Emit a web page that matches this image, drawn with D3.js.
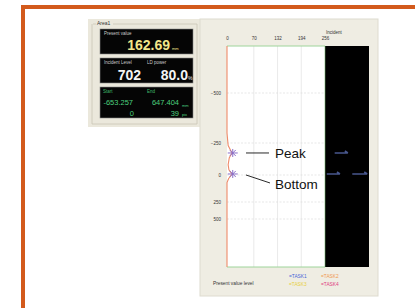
<!DOCTYPE html>
<html lang="en">
<head>
  <meta charset="UTF-8">
  <title>profile</title>
  <script src="https://d3js.org/d3.v7.min.js" charset="utf-8"></script>
  <style>
    body { margin: 0; background: #fff; }
    text { font-family: Arial, "Liberation Sans", sans-serif; }
  </style>
</head>
<body>
</body>
<script>
  // top axis (incident level) and left axis (position, mm)
  let topTicks = [0, 70, 132, 194, 256]
  let posTicks = [-500, -250, 0, 250, 500]
  // received light profile: [level, position]
  let profile = [[0, -900], [0, -300], [3, -230], [13, -172], [6, -135], [3, -80], [5, -40], [13, -8], [4, 35], [0, 70], [0, 900]]
  let markers = [{name: 'Peak', level: 15, pos: -172}, {name: 'Bottom', level: 15, pos: -8}]
  // streaks in the incident pane: position, from, to (0-100)
  let streaks = [[-172, 22, 52], [-8, 4, 34], [-8, 62, 96]]
  let readouts = [
    {label: ['Present value'], values: ['162.69'], units: ['mm']},
    {label: ['Incident Level', 'LD power'], values: ['702', '80.0'], units: ['', '%']},
    {label: ['Start', 'End'], values: ['-653.257', '647.404'], units: ['mm'], sub: ['0', '39'], subUnit: 'pix'}
  ]
  let tasks = ['=TASK1', '=TASK2', '=TASK3', '=TASK4']
  let taskColors = ['#4a66d8', '#f09a50', '#e8d040', '#e04080']

  var svg = d3.select('body').append('svg').attr('width', 415).attr('height', 308)

  // orange frame
  svg.append('rect').attr('x', 23).attr('y', 7).attr('width', 420).attr('height', 320)
    .attr('fill', 'none').attr('stroke', '#d35a1c').attr('stroke-width', 4)

  // left readout panel
  svg.append('rect').attr('x', 88).attr('y', 19).attr('width', 112).attr('height', 108).attr('fill', '#ebe8dc')
  svg.append('path').attr('d', 'M93,24 H96 M113,24 H197 V124 H92 V24').attr('fill', 'none').attr('stroke', '#c9c5b5').attr('stroke-width', 0.8)
  svg.append('text').attr('x', 97).attr('y', 25).attr('font-size', 5).attr('fill', '#333').text('Area1')

  var boxes = [[29, 25], [58, 25], [87, 31]]
  boxes.forEach((b, i) => {
    svg.append('rect').attr('x', 100).attr('y', b[0]).attr('width', 93).attr('height', b[1]).attr('fill', '#050505')
      .attr('stroke', '#888').attr('stroke-width', 0.6)
  })
  // box 1
  svg.append('text').attr('x', 104).attr('y', 35).attr('font-size', 4.5).attr('fill', '#ccc').text(readouts[0].label[0])
  svg.append('text').attr('x', 170).attr('y', 50).attr('text-anchor', 'end').attr('font-size', 14).attr('font-weight', 'bold')
    .attr('fill', '#f2e58a').text(readouts[0].values[0])
  svg.append('text').attr('x', 172).attr('y', 50).attr('font-size', 4).attr('fill', '#f2e58a').text(readouts[0].units[0])
  // box 2
  svg.append('text').attr('x', 104).attr('y', 64).attr('font-size', 4.5).attr('fill', '#ccc').text(readouts[1].label[0])
  svg.append('text').attr('x', 147).attr('y', 64).attr('font-size', 4.5).attr('fill', '#ccc').text(readouts[1].label[1])
  svg.append('text').attr('x', 141).attr('y', 80).attr('text-anchor', 'end').attr('font-size', 14).attr('font-weight', 'bold')
    .attr('fill', '#f4f4f4').text(readouts[1].values[0])
  svg.append('text').attr('x', 188).attr('y', 80).attr('text-anchor', 'end').attr('font-size', 14).attr('font-weight', 'bold')
    .attr('fill', '#f4f4f4').text(readouts[1].values[1])
  svg.append('text').attr('x', 188).attr('y', 80).attr('font-size', 5).attr('fill', '#f4f4f4').text(readouts[1].units[1])
  // box 3
  svg.append('text').attr('x', 103).attr('y', 93).attr('font-size', 4.5).attr('fill', '#3fb86a').text(readouts[2].label[0])
  svg.append('text').attr('x', 147).attr('y', 93).attr('font-size', 4.5).attr('fill', '#3fb86a').text(readouts[2].label[1])
  svg.append('text').attr('x', 133).attr('y', 105).attr('text-anchor', 'end').attr('font-size', 7.5).attr('fill', '#4cd07e').text(readouts[2].values[0])
  svg.append('text').attr('x', 179).attr('y', 105).attr('text-anchor', 'end').attr('font-size', 7.5).attr('fill', '#4cd07e').text(readouts[2].values[1])
  svg.append('text').attr('x', 182).attr('y', 107).attr('font-size', 4).attr('fill', '#4cd07e').text(readouts[2].units[0])
  svg.append('text').attr('x', 134).attr('y', 116).attr('text-anchor', 'end').attr('font-size', 7.5).attr('fill', '#4cd07e').text(readouts[2].sub[0])
  svg.append('text').attr('x', 179).attr('y', 116).attr('text-anchor', 'end').attr('font-size', 7.5).attr('fill', '#4cd07e').text(readouts[2].sub[1])
  svg.append('text').attr('x', 182).attr('y', 116).attr('font-size', 4).attr('fill', '#4cd07e').text(readouts[2].subUnit)

  // right chart panel
  svg.append('rect').attr('x', 200).attr('y', 19).attr('width', 178).attr('height', 277).attr('fill', '#efede3')
    .attr('stroke', '#dedbcf').attr('stroke-width', 1)

  var x = d3.scaleLinear().domain([0, 256]).range([227, 325])
  var y = d3.scaleLinear().domain([-900, -500, -250, 0, 250, 500, 900]).range([46, 93, 143, 175, 202, 219, 267])
  var xs = d3.scaleLinear().domain([0, 100]).range([325, 369])

  svg.append('rect').attr('x', x(0)).attr('y', 46).attr('width', x(256) - x(0)).attr('height', 221).attr('fill', '#fff')
  svg.append('rect').attr('x', xs(0)).attr('y', 46).attr('width', xs(100) - xs(0)).attr('height', 221).attr('fill', '#000')

  // grid
  svg.append('g').selectAll('line').data(topTicks.slice(1, 4)).enter().append('line')
    .attr('x1', d => x(d)).attr('x2', d => x(d)).attr('y1', 46).attr('y2', 267)
    .attr('stroke', '#e4e4e4').attr('stroke-width', 0.8)
  svg.append('g').selectAll('line').data(posTicks).enter().append('line')
    .attr('x1', x(0)).attr('x2', x(256)).attr('y1', d => y(d)).attr('y2', d => y(d))
    .attr('stroke', '#dcdcdc').attr('stroke-width', 0.7).attr('stroke-dasharray', '2,1.5')
  svg.append('line').attr('x1', x(0)).attr('x2', x(256)).attr('y1', 46).attr('y2', 46).attr('stroke', '#9ed49a')
  svg.append('line').attr('x1', x(0)).attr('x2', x(256)).attr('y1', 267).attr('y2', 267).attr('stroke', '#9ed49a')
  svg.append('line').attr('x1', xs(0)).attr('x2', xs(0)).attr('y1', 46).attr('y2', 267).attr('stroke', '#6fb06a').attr('stroke-width', 0.6)

  // axes
  var topAxis = d3.axisTop(x).tickValues(topTicks).tickSize(0).tickPadding(5)
  var gt = svg.append('g').attr('transform', 'translate(0,45)').call(topAxis)
  gt.select('.domain').remove()
  gt.selectAll('text').attr('font-size', 4.5).attr('fill', '#333')
  svg.append('text').attr('x', 334).attr('y', 34).attr('text-anchor', 'middle').attr('font-size', 4.5).attr('fill', '#333').text('Incident')

  var leftAxis = d3.axisLeft(y).tickValues(posTicks).tickSize(0).tickPadding(6)
  var gl = svg.append('g').attr('transform', 'translate(' + x(0) + ',0)').call(leftAxis)
  gl.select('.domain').remove()
  gl.selectAll('text').attr('font-size', 4.5).attr('fill', '#333')

  // profile line
  var line = d3.line().x(d => x(d[0])).y(d => y(d[1]))
  svg.append('path').attr('d', line(profile)).attr('fill', 'none').attr('stroke', '#ee8a6a').attr('stroke-width', 1.1)

  // markers
  var mk = svg.append('g').selectAll('g').data(markers).enter().append('g')
    .attr('transform', d => 'translate(' + x(d.level) + ',' + y(d.pos) + ')')
  mk.append('path').attr('d', 'M-5,0 H5 M0,-4 V4 M-3,-3 L3,3 M-3,3 L3,-3')
    .attr('stroke', '#8a70c8').attr('stroke-width', 1).attr('fill', 'none')

  // annotations
  svg.append('line').attr('x1', 246).attr('x2', 269).attr('y1', y(markers[0].pos)).attr('y2', y(markers[0].pos))
    .attr('stroke', '#111').attr('stroke-width', 0.9)
  svg.append('text').attr('x', 275).attr('y', y(markers[0].pos) + 5).attr('font-size', 13.5).attr('fill', '#111').text(markers[0].name)
  svg.append('line').attr('x1', 246).attr('x2', 270).attr('y1', y(markers[1].pos) + 1).attr('y2', y(markers[1].pos) + 9)
    .attr('stroke', '#111').attr('stroke-width', 0.9)
  svg.append('text').attr('x', 275).attr('y', y(markers[1].pos) + 15).attr('font-size', 13.5).attr('fill', '#111').text(markers[1].name)

  // streaks in incident pane
  svg.append('g').selectAll('path').data(streaks).enter().append('path')
    .attr('d', d => 'M' + xs(d[1]) + ',' + y(d[0]) + ' H' + xs(d[2]) + ' M' + (xs(d[2]) - 3) + ',' + (y(d[0]) - 2) + ' L' + xs(d[2]) + ',' + y(d[0]))
    .attr('stroke', '#5566a6').attr('stroke-width', 1.6).attr('fill', 'none').attr('opacity', 0.85)

  // legend
  svg.append('text').attr('x', 213).attr('y', 285).attr('font-size', 4.8).attr('fill', '#333').text('Present value level')
  svg.append('g').selectAll('text').data(tasks).enter().append('text')
    .attr('x', (d, i) => i % 2 === 0 ? 289 : 321).attr('y', (d, i) => i < 2 ? 278 : 286)
    .attr('font-size', 4.8).attr('fill', (d, i) => taskColors[i]).text(d => d)
</script>
</html>
